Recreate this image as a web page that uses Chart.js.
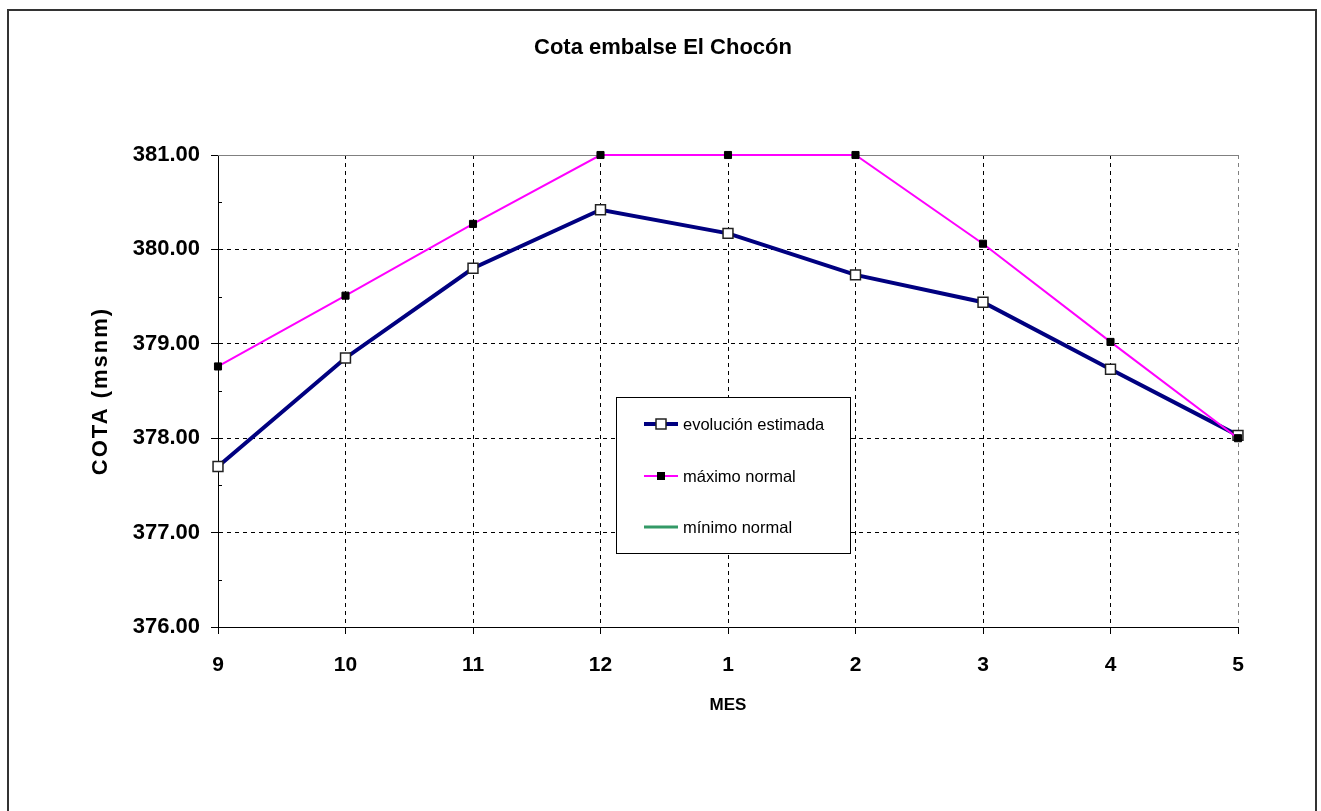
<!DOCTYPE html>
<html>
<head>
<meta charset="utf-8">
<script src="https://cdn.jsdelivr.net/npm/chart.js@4.4.1/dist/chart.umd.min.js"></script>
<style>
  html, body { margin: 0; padding: 0; background: #fff; }
  canvas { display: block; }
</style>
</head>
<body>
<canvas id="c" width="1321" height="811"></canvas>
<script>
// ---- data ----
const months = ['9', '10', '11', '12', '1', '2', '3', '4', '5'];
const evolucionEstimada = [377.70, 378.85, 379.80, 380.42, 380.17, 379.73, 379.44, 378.73, 378.03];
const maximoNormal = [378.76, 379.51, 380.27, 381.00, 381.00, 381.00, 380.06, 379.02, 378.00];
const minimoNormal = [null, null, null, null, null, null, null, null, null];
const seriesNames = ['evolución estimada', 'máximo normal', 'mínimo normal'];
const yMin = 376, yMax = 381, yStep = 1;
const chartTitle = 'Cota embalse El Chocón';
const xTitle = 'MES';
const yTitle = 'COTA (msnm)';

const FONT = '"Liberation Sans", Arial, sans-serif';

const decor = {
  id: 'decor',
  beforeDatasetsDraw(chart) {
    const ctx = chart.ctx;
    const a = chart.chartArea;
    const ys = chart.scales.y;
    ctx.save();
    // solid grey top line of plot area
    ctx.strokeStyle = '#808080';
    ctx.lineWidth = 1;
    ctx.beginPath();
    ctx.moveTo(a.left, Math.round(a.top) + 0.5);
    ctx.lineTo(a.right, Math.round(a.top) + 0.5);
    ctx.stroke();
    // minor ticks (inward) on y axis
    ctx.strokeStyle = '#000';
    for (let v = yMin + yStep / 2; v < yMax; v += yStep) {
      const y = Math.round(ys.getPixelForValue(v)) + 0.5;
      ctx.beginPath();
      ctx.moveTo(a.left, y);
      ctx.lineTo(a.left + 4, y);
      ctx.stroke();
    }
    ctx.restore();
  },
  afterDraw(chart) {
    const ctx = chart.ctx;
    const a = chart.chartArea;
    ctx.save();
    // outer frame
    ctx.strokeStyle = '#333';
    ctx.lineWidth = 2;
    ctx.strokeRect(8, 10, 1308, 820);
    // title
    ctx.fillStyle = '#000';
    ctx.textAlign = 'center';
    ctx.textBaseline = 'middle';
    ctx.font = 'bold 22px ' + FONT;
    ctx.fillText(chartTitle, 663, 48);
    // x title
    ctx.font = 'bold 17px ' + FONT;
    ctx.fillText(xTitle, (a.left + a.right) / 2, 705);
    // y title
    ctx.save();
    ctx.translate(101, (a.top + a.bottom) / 2);
    ctx.rotate(-Math.PI / 2);
    ctx.font = 'bold 22px ' + FONT;
    ctx.letterSpacing = '2px';
    ctx.fillText(yTitle, 0, 0);
    ctx.restore();

    // legend
    const lx = 616, ly = 397, lw = 234, lh = 156;
    ctx.fillStyle = '#fff';
    ctx.fillRect(lx, ly, lw, lh);
    ctx.strokeStyle = '#000';
    ctx.lineWidth = 1;
    ctx.strokeRect(lx + 0.5, ly + 0.5, lw, lh);
    const rows = [424, 476, 527];
    chart.data.datasets.forEach((ds, i) => {
      const y = rows[i];
      ctx.strokeStyle = ds.borderColor;
      ctx.lineWidth = ds.borderWidth;
      ctx.beginPath();
      ctx.moveTo(644, y);
      ctx.lineTo(678, y);
      ctx.stroke();
      if (ds.pointRadius > 0) {
        const s = Math.round(ds.pointRadius * Math.SQRT2);
        ctx.fillStyle = ds.pointBackgroundColor;
        ctx.fillRect(661 - s / 2, y - s / 2, s, s);
        ctx.strokeStyle = ds.pointBorderColor;
        ctx.lineWidth = ds.pointBorderWidth;
        ctx.strokeRect(661 - s / 2, y - s / 2, s, s);
      }
      ctx.fillStyle = '#000';
      ctx.textAlign = 'left';
      ctx.font = '16.5px ' + FONT;
      ctx.fillText(ds.label, 683, y + 1);
    });
    ctx.restore();
  }
};

new Chart(document.getElementById('c'), {
  type: 'line',
  data: {
    labels: months,
    datasets: [
      {
        label: seriesNames[0],
        data: evolucionEstimada,
        borderColor: '#000080',
        borderWidth: 4,
        pointStyle: 'rect',
        pointRadius: 7,
        pointBackgroundColor: '#fff',
        pointBorderColor: '#222',
        pointBorderWidth: 1.5,
        tension: 0,
        clip: false,
        order: 2
      },
      {
        label: seriesNames[1],
        data: maximoNormal,
        borderColor: '#ff00ff',
        borderWidth: 2,
        pointStyle: 'rect',
        pointRadius: 5,
        pointBackgroundColor: '#000',
        pointBorderColor: '#000',
        pointBorderWidth: 1,
        tension: 0,
        clip: false,
        order: 1
      },
      {
        label: seriesNames[2],
        data: minimoNormal,
        borderColor: '#339966',
        borderWidth: 3,
        pointRadius: 0,
        tension: 0,
        clip: false,
        order: 3
      }
    ]
  },
  options: {
    responsive: false,
    animation: false,
    layout: { padding: { top: 155, right: 83, left: 0, bottom: 0 } },
    plugins: { legend: { display: false }, title: { display: false }, tooltip: { enabled: false } },
    scales: {
      x: {
        type: 'category',
        offset: false,
        afterFit(s) { s.height = 184; },
        grid: {
          color: c => (c.index === 0 ? 'rgba(0,0,0,0)' : (c.index === months.length - 1 ? '#808080' : '#000')),
          lineWidth: 1,
          tickLength: 7,
          tickColor: '#000',
          tickBorderDash: []
        },
        border: { display: true, color: '#000', width: 1, dash: [4, 4] },
        ticks: {
          color: '#000',
          padding: 19,
          maxRotation: 0,
          font: { family: FONT, size: 21, weight: 'bold' }
        }
      },
      y: {
        min: yMin,
        max: yMax,
        afterFit(s) { s.width = 218; },
        grid: {
          color: c => ((c.tick && (c.tick.value === yMin || c.tick.value === yMax)) ? 'rgba(0,0,0,0)' : '#000'),
          lineWidth: 1,
          tickLength: 7,
          tickColor: '#000',
          tickBorderDash: []
        },
        border: { display: true, color: '#000', width: 1, dash: [4, 4] },
        ticks: {
          stepSize: yStep,
          color: '#000',
          padding: 11,
          font: { family: FONT, size: 22, weight: 'bold' },
          callback: v => Number(v).toFixed(2)
        }
      }
    }
  },
  plugins: [decor]
});
</script>
</body>
</html>
